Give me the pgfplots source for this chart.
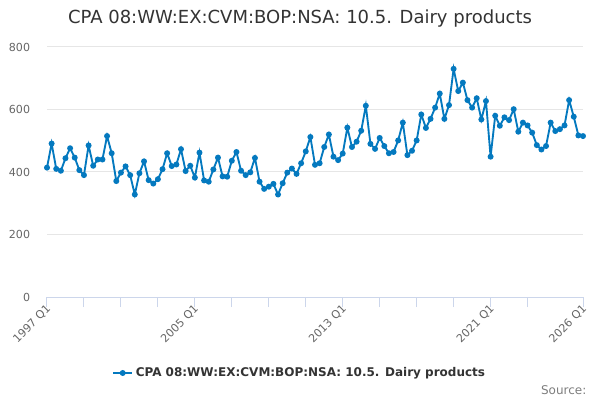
\documentclass[border=0pt]{standalone}
\usepackage{fontspec}
\setmainfont{DejaVu Sans}
\usepackage{pgfplots}
\usepackage{pgfplotstable}
\pgfplotsset{compat=1.18}
\definecolor{ser}{HTML}{0479BF}
\definecolor{gridc}{HTML}{E6E6E6}
\definecolor{axc}{HTML}{CCD6EB}
\definecolor{lab}{HTML}{666666}
\definecolor{txt}{HTML}{333333}
\pgfplotstableread{
i v
0 414
1 491
2 410
3 404
4 444
5 476
6 446
7 406
8 390
9 485
10 420
11 440
12 440
13 515
14 460
15 371
16 398
17 418
18 390
19 328
20 396
21 434
22 374
23 363
24 377
25 409
26 460
27 419
28 424
29 473
30 403
31 420
32 382
33 462
34 373
35 369
36 408
37 446
38 386
39 385
40 436
41 464
42 404
43 390
44 399
45 445
46 369
47 346
48 353
49 362
50 328
51 364
52 398
53 411
54 394
55 428
56 466
57 512
58 423
59 428
60 480
61 520
62 449
63 438
64 459
65 542
66 480
67 497
68 532
69 612
70 490
71 474
72 509
73 483
74 460
75 464
76 501
77 558
78 454
79 468
80 501
81 584
82 541
83 570
84 606
85 651
86 570
87 614
88 730
89 659
90 686
91 630
92 606
93 636
94 568
95 627
96 449
97 580
98 548
99 575
100 566
101 601
102 529
103 558
104 549
105 526
106 486
107 472
108 483
109 558
110 531
111 537
112 549
113 630
114 577
115 517
116 515
}\datatable
\begin{document}
\begin{tikzpicture}[x=0.75pt,y=0.75pt]
\path[use as bounding box] (0,0) rectangle (600,400);
\node[anchor=center, text=txt, font=\fontsize{13.5}{16}\selectfont] at (300,381) {CPA 08:WW:EX:CVM:BOP:NSA: 10.5. Dairy products};
\node[anchor=east, text=lab!85, font=\fontsize{9}{11}\selectfont] at (591,10) {Source:};
\begin{axis}[
  at={(35.25pt,77.25pt)}, anchor=south west,
  width=402pt, height=187.5pt, scale only axis,
  xmin=0, xmax=116, ymin=0, ymax=800,
  ytick={0,200,400,600,800},
  xtick={0,32,64,96,116},
  xticklabels={1997 Q1,2005 Q1,2013 Q1,2021 Q1,2026 Q1},
  minor xtick={8,16,24,40,48,56,72,80,88,104},
  /pgf/number format/assume math mode=true,
  ymajorgrids, major grid style={draw=gridc, line width=0.75pt},
  axis x line*=bottom, axis y line*=left,
  x axis line style={draw=axc, line width=0.75pt, -},
  y axis line style={draw=none},
  xtick style={draw=axc, line width=0.75pt},
  ytick style={draw=none},
  tick align=outside,
  major tick length=7.5pt,
  minor tick length=7.5pt,
  every tick label/.append style={text=lab, font=\fontsize{8.3}{10}\selectfont},
  yticklabel style={anchor=east, inner sep=0pt, xshift=-5pt},
  xticklabel style={rotate=45, anchor=east, inner sep=0pt, xshift=1pt, yshift=-1pt},
  legend style={at={(0.472,-0.304)}, anchor=center, draw=none, fill=none,
     font=\bfseries\fontsize{9}{11}\selectfont, text=txt},
  legend image code/.code={\draw[mark repeat=2,mark phase=2] plot coordinates {(0cm,0cm) (0.25cm,0cm) (0.5cm,0cm)};},
  clip=false,
]
\addplot[color=ser, line width=1.4pt, mark=*, mark size=1.5pt, mark options={solid}] table[x=i,y=v] {\datatable};
\addlegendentry{CPA 08:WW:EX:CVM:BOP:NSA: 10.5. Dairy products}
\end{axis}
\end{tikzpicture}
\end{document}
